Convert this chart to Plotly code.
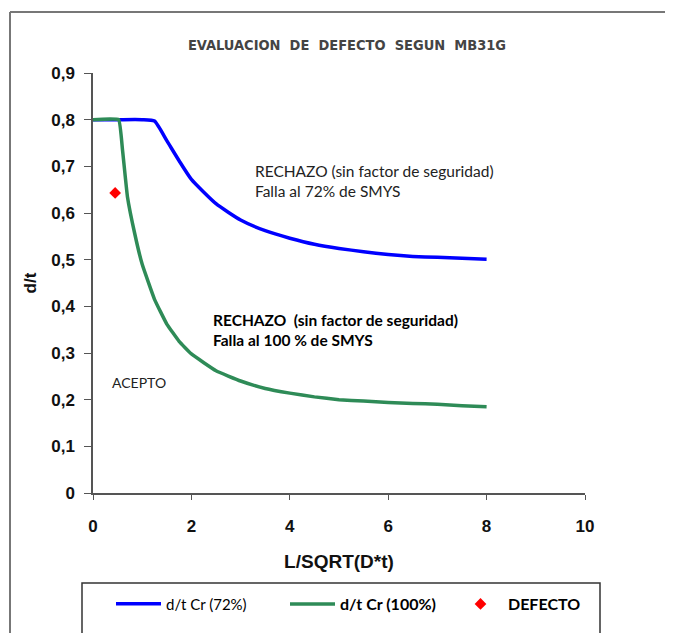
import plotly.graph_objects as go

# Data
x_72 = [0, 0.5, 1.0, 1.25, 1.5, 1.75, 2.0, 2.5, 3.0, 3.5, 4.0, 4.5, 5.0, 5.5, 6.0, 6.5, 7.0, 7.5, 8.0]
y_72 = [0.8, 0.8, 0.8, 0.797, 0.755, 0.712, 0.672, 0.620, 0.585, 0.562, 0.546, 0.533, 0.524, 0.517, 0.511, 0.507, 0.505, 0.503, 0.501]

x_100 = [0, 0.52, 0.6, 0.7, 0.85, 1.0, 1.25, 1.5, 1.75, 2.0, 2.5, 3.0, 3.5, 4.0, 4.5, 5.0, 5.5, 6.0, 6.5, 7.0, 7.5, 8.0]
y_100 = [0.8, 0.8, 0.735, 0.635, 0.555, 0.49, 0.415, 0.362, 0.325, 0.298, 0.262, 0.240, 0.224, 0.214, 0.206, 0.200, 0.197, 0.194, 0.192, 0.190, 0.187, 0.185]

x_def = [0.45]
y_def = [0.643]

x_ticks = [0, 2, 4, 6, 8, 10]
y_ticks = [0, 0.1, 0.2, 0.3, 0.4, 0.5, 0.6, 0.7, 0.8, 0.9]
y_ticktext = ["0", "0,1", "0,2", "0,3", "0,4", "0,5", "0,6", "0,7", "0,8", "0,9"]

TXT = "Lato, 'Open Sans', sans-serif"
AX = "'Liberation Sans', Arial, sans-serif"

# page has an 8px body margin; figure is sized/offset to compensate
OFF = 8
W, H = 673 - OFF, 633 - OFF

fig = go.Figure()
fig.add_trace(go.Scatter(x=x_72, y=y_72, mode="lines", name="d/t Cr (72%)", legend="legend",
                         line=dict(color="#0000FF", width=3.5, shape="spline", smoothing=0.5)))
fig.add_trace(go.Scatter(x=x_100, y=y_100, mode="lines", name="<b>d/t Cr (100%)</b>", legend="legend2",
                         line=dict(color="#2E8B57", width=3.5, shape="spline", smoothing=0.3)))
fig.add_trace(go.Scatter(x=x_def, y=y_def, mode="markers", name="<b>DEFECTO</b>", legend="legend3",
                         marker=dict(symbol="diamond", color="#FF0000", size=9)))

# screen px -> paper coords (plot area: x 93..585, y 73..493 on screen)
px = lambda v: (v - 93) / 492
py = lambda v: (493 - v) / 420


def leg(xpx, size):
    return dict(orientation="h", x=px(xpx), xanchor="left", y=py(604), yanchor="middle",
                font=dict(family=TXT, size=size, color="#000"), bgcolor="rgba(0,0,0,0)",
                itemwidth=45)


fig.update_layout(
    width=W, height=H,
    margin=dict(l=93 - OFF, r=W - (585 - OFF), t=73 - OFF, b=H - (493 - OFF), autoexpand=False),
    paper_bgcolor="white", plot_bgcolor="white",
    showlegend=True,
    title=dict(text="EVALUACION  DE  DEFECTO  SEGUN  MB31G", x=(347 - OFF) / W, xanchor="center",
               y=1 - (45 - OFF) / H, yanchor="middle",
               font=dict(family="'DejaVu Sans Condensed', 'Liberation Sans Narrow', sans-serif",
                         size=14.5, color="#444444", weight="bold")),
    legend=leg(111, 15),
    legend2=leg(285, 16),
    legend3=leg(453, 16),
    xaxis=dict(range=[0, 10], tickvals=x_ticks, ticktext=[str(v) for v in x_ticks], automargin=False,
               showgrid=False, zeroline=False, showline=True, linecolor="#555", linewidth=1.5,
               ticks="outside", ticklen=5, tickcolor="#555", ticklabelstandoff=12,
               tickfont=dict(family=AX, size=17, color="#111", weight="bold"),
               title=dict(text="L/SQRT(D*t)", standoff=20,
                          font=dict(family=AX, size=19, color="#111", weight="bold"))),
    yaxis=dict(range=[0, 0.9], tickvals=y_ticks, ticktext=y_ticktext, automargin=False,
               showgrid=False, zeroline=False, showline=True, linecolor="#555", linewidth=1.5,
               ticks="outside", ticklen=7, tickcolor="#555", ticklabelstandoff=6,
               tickfont=dict(family=AX, size=17, color="#111", weight="bold"),
               title=dict(text="d/t", standoff=10,
                          font=dict(family=AX, size=17, color="#111", weight="bold"))),
)

fig.add_annotation(x=3.25, y=0.668, xref="x", yref="y", xanchor="left", yanchor="middle",
                   text="RECHAZO (sin factor de seguridad)<br>Falla al 72% de SMYS", showarrow=False,
                   align="left", font=dict(family=TXT, size=15.5, color="#222"))
fig.add_annotation(x=2.40, y=0.349, xref="x", yref="y", xanchor="left", yanchor="middle",
                   text="<b>RECHAZO  (sin factor de seguridad)<br>Falla al 100 % de SMYS</b>", showarrow=False,
                   align="left", font=dict(family=TXT, size=15.5, color="#000"))
fig.add_annotation(x=0.35, y=0.236, xref="x", yref="y", xanchor="left", yanchor="middle",
                   text="ACEPTO", showarrow=False, font=dict(family=TXT, size=14, color="#222"))

# outer frame (top and left) and legend box
fig.add_shape(type="line", xref="paper", yref="paper", x0=px(10), x1=px(700), y0=py(12), y1=py(12),
              line=dict(color="#777", width=2))
fig.add_shape(type="line", xref="paper", yref="paper", x0=px(10), x1=px(10), y0=py(12), y1=py(660),
              line=dict(color="#777", width=2))
fig.add_shape(type="rect", xref="paper", yref="paper", x0=px(82), x1=px(600), y0=py(583), y1=py(660),
              line=dict(color="#333", width=1.5))

fig.write_html("out.html")
